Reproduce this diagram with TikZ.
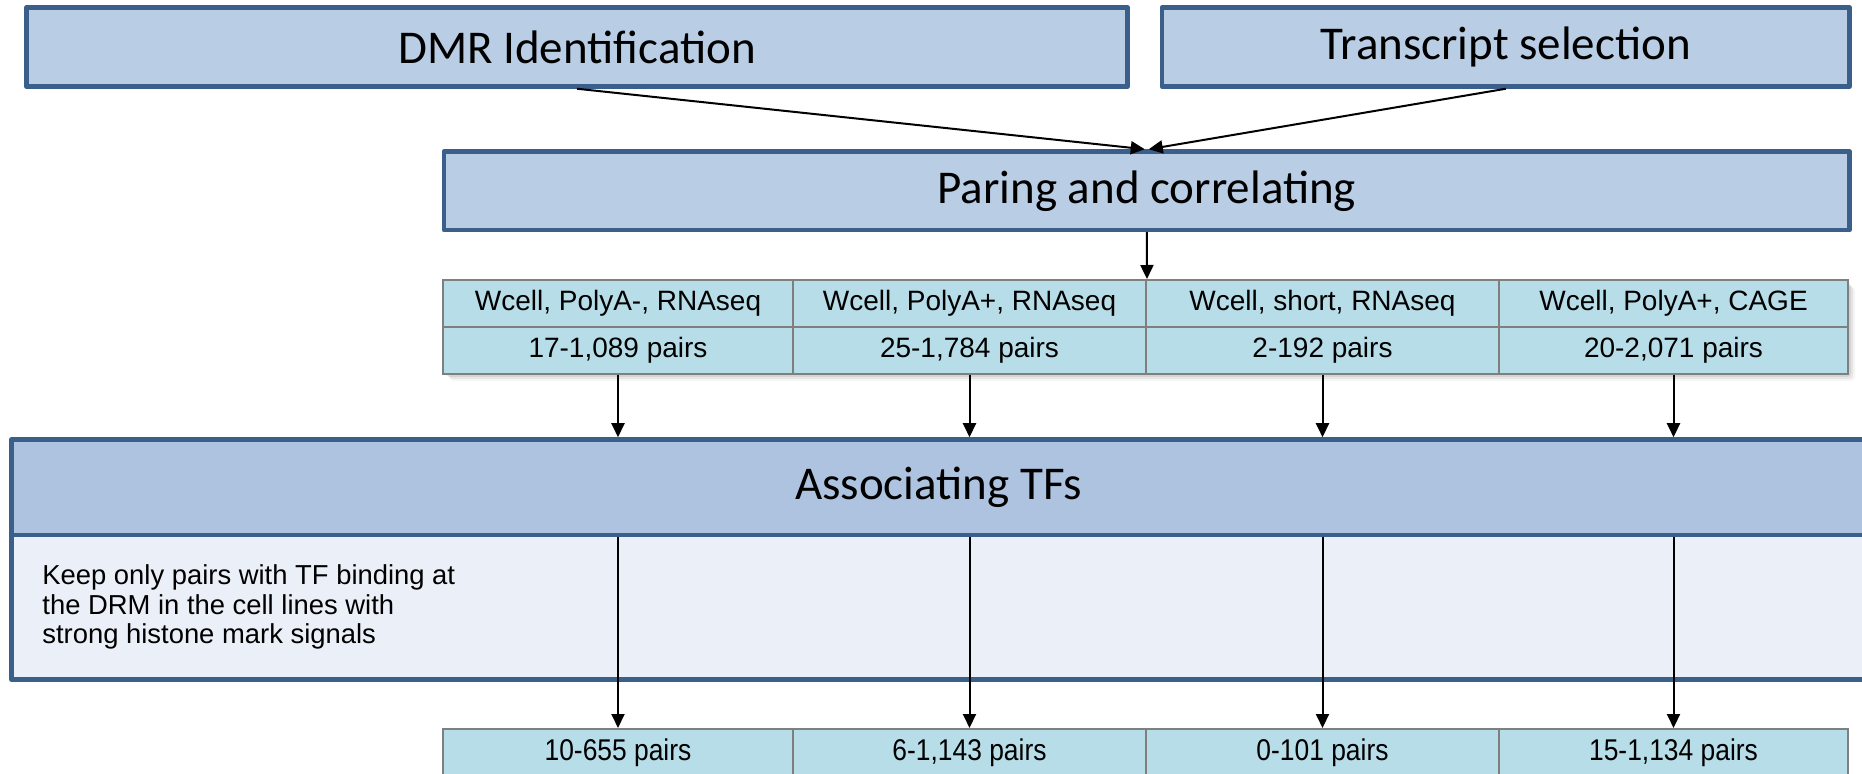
\documentclass[tikz,border=0pt]{standalone}
\usepackage{fontspec}
\setmainfont{Liberation Sans}
\newfontfamily\calib{Carlito}
\newfontfamily\narrowsans[FakeStretch=0.88]{Liberation Sans}
\usetikzlibrary{arrows.meta}
\definecolor{boxfill}{HTML}{B9CDE5}
\definecolor{boxline}{HTML}{3A5F8B}
\definecolor{headfill}{HTML}{AEC3DF}
\definecolor{bodyfill}{HTML}{EBF0F8}
\definecolor{cellfill}{HTML}{B7DDE8}
\definecolor{cellline}{HTML}{7F7F7F}
\begin{document}
\begin{tikzpicture}[x=0.5pt,y=-0.5pt,
  bigbox/.style={draw=boxline, fill=boxfill, line width=2.25pt, line join=round,
    font=\calib\fontsize{23.5}{28}\selectfont, inner sep=0pt},
  assocbox/.style={draw=boxline, line width=2.25pt, line join=round, inner sep=0pt},
  cell/.style={draw=cellline, fill=cellfill, line width=1pt, inner sep=0pt,
    font=\fontsize{14}{16}\selectfont, minimum height=23.5pt},
  lowcell/.style={cell, minimum height=24pt, font=\narrowsans\fontsize{15}{17}\selectfont},
  arr/.style={draw=black, line width=1pt, -{Triangle[length=7pt,width=6.5pt]}}]
\useasboundingbox (0,0) rectangle (1862,774);
\fill[white] (0,0) rectangle (1862,774);

% top boxes
\node[bigbox, minimum width=550.5pt, minimum height=39.5pt] (dmr) at (577,47) {DMR Identification};
\node[bigbox, minimum width=343.75pt, minimum height=39.5pt] (ts) at (1505.75,47) {Transcript selection};
\node[bigbox, minimum width=702.75pt, minimum height=39.25pt] (par) at (1146.75,190.75) {Paring and correlating};

% table shadow
\foreach \d/\o in {1/0.10,3/0.08,5/0.06,7/0.04}{
  \fill[black, opacity=\o, rounded corners=2pt] (443+\d,280+\d) rectangle (1848+\d,374+\d);
}

% first table
\node[cell, minimum width=175pt]   (a1) at (618,303.5)    {Wcell, PolyA-, RNAseq};
\node[cell, minimum width=176.5pt] (a2) at (969.5,303.5)  {Wcell, PolyA+, RNAseq};
\node[cell, minimum width=176.5pt] (a3) at (1322.5,303.5) {Wcell, short, RNAseq};
\node[cell, minimum width=174.5pt] (a4) at (1673.5,303.5) {Wcell, PolyA+, CAGE};
\node[cell, minimum width=175pt]   (b1) at (618,350.5)    {17-1,089 pairs};
\node[cell, minimum width=176.5pt] (b2) at (969.5,350.5)  {25-1,784 pairs};
\node[cell, minimum width=176.5pt] (b3) at (1322.5,350.5) {2-192 pairs};
\node[cell, minimum width=174.5pt] (b4) at (1673.5,350.5) {20-2,071 pairs};

% associating box
\node[assocbox, fill=headfill, minimum width=927.25pt, minimum height=47.75pt,
  font=\calib\fontsize{23.5}{28}\selectfont] (ah) at (938.75,487.25) {Associating TFs};
\node[assocbox, fill=bodyfill, minimum width=927.25pt, minimum height=72.25pt] (ab) at (938.75,607.25) {};
\node[anchor=west, align=left, inner sep=0pt, font=\fontsize{13.7}{14.8}\selectfont] (note) at (42,607)
  {Keep only pairs with TF binding at\\the DRM in the cell lines with\\strong histone mark signals};

% bottom table
\node[lowcell, minimum width=175pt]   (c1) at (618,753)    {10-655 pairs};
\node[lowcell, minimum width=176.5pt] (c2) at (969.5,753)  {6-1,143 pairs};
\node[lowcell, minimum width=176.5pt] (c3) at (1322.5,753) {0-101 pairs};
\node[lowcell, minimum width=174.5pt] (c4) at (1673.5,753) {15-1,134 pairs};

% connectors
\draw[arr] (dmr.south) -- ([xshift=-1pt]par.north);
\draw[arr] (ts.south) -- ([xshift=1pt]par.north);
\draw[arr] (par.south) -- (a2.north east);
\foreach \i in {1,2,3,4}{
  \draw[arr] (b\i.south) -- (b\i.south |- ah.north);
  \draw[arr] (c\i.north |- ah.south) -- (c\i.north);
}
\end{tikzpicture}
\end{document}
